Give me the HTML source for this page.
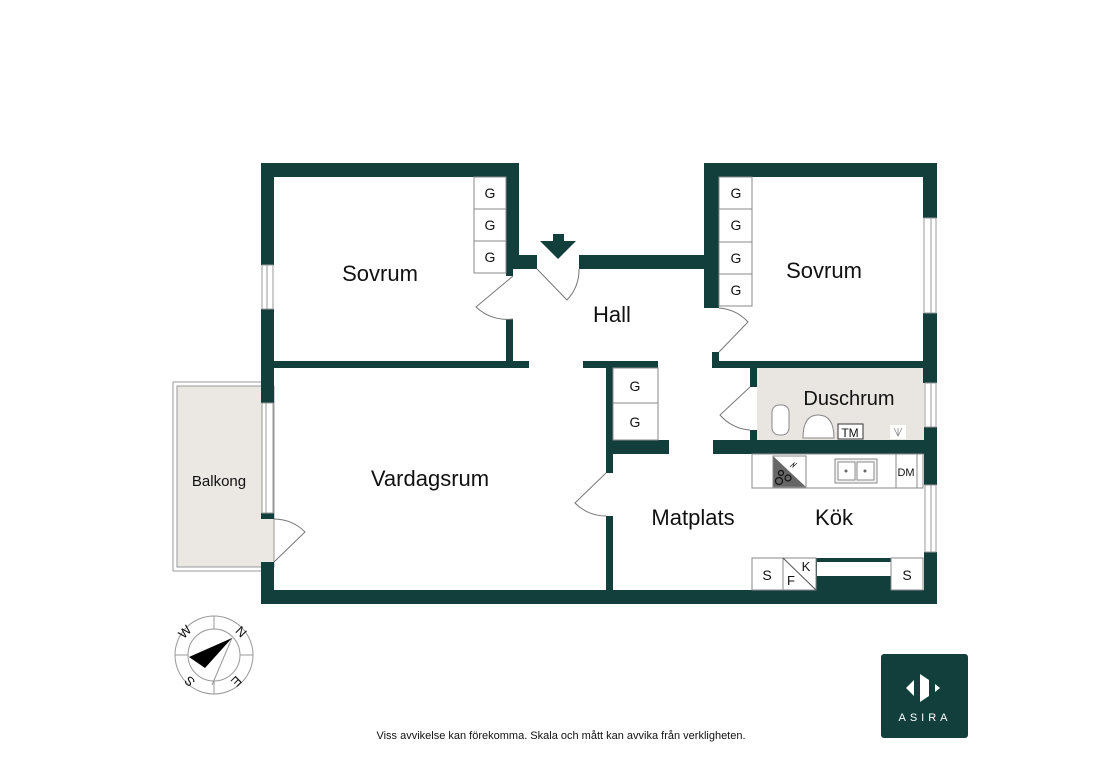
<!DOCTYPE html>
<html><head><meta charset="utf-8"><style>
html,body{margin:0;padding:0;background:#fff;}
svg{display:block;}
text{font-family:"Liberation Sans",Arial,sans-serif;fill:#111;}
</style></head><body>
<svg width="1110" height="782" viewBox="0 0 1110 782" xmlns="http://www.w3.org/2000/svg">
<rect x="173" y="382" width="90" height="189" fill="#fff" stroke="#999" stroke-width="1"/>
<rect x="177" y="386" width="97" height="181" fill="#ebe7e3" stroke="#999" stroke-width="1"/>
<rect x="757" y="368" width="167" height="72" fill="#e9e5e1"/>
<g fill="#123f3c">
<rect x="261" y="163" width="258" height="14"/>
<rect x="261" y="163" width="13" height="102"/>
<rect x="261" y="309" width="13" height="94"/>
<rect x="261" y="513" width="13" height="6"/>
<rect x="261" y="562" width="13" height="42"/>
<rect x="261" y="590" width="676" height="14"/>
<rect x="506" y="163" width="13" height="106"/>
<rect x="506" y="269" width="7" height="7"/>
<rect x="506" y="255" width="31" height="14"/>
<rect x="579" y="255" width="140" height="14"/>
<rect x="704" y="163" width="233" height="14"/>
<rect x="704" y="163" width="15" height="145"/>
<rect x="712" y="352" width="7" height="16"/>
<rect x="923" y="163" width="14" height="55"/>
<rect x="923" y="313" width="14" height="70"/>
<rect x="924" y="427" width="13" height="58"/>
<rect x="924" y="552" width="13" height="52"/>
<rect x="506" y="319" width="7" height="42"/>
<rect x="274" y="361" width="255" height="7"/>
<rect x="583" y="361" width="75" height="7"/>
<rect x="606" y="361" width="7" height="112"/>
<rect x="606" y="516" width="7" height="74"/>
<rect x="606" y="440" width="63" height="14"/>
<rect x="713" y="440" width="224" height="14"/>
<rect x="713" y="361" width="224" height="7"/>
<rect x="750" y="368" width="7" height="19"/>
<rect x="750" y="430" width="7" height="10"/>
<rect x="816" y="558" width="75" height="32"/>
</g>
<rect x="817" y="562" width="74" height="14" fill="#fff"/>
<g fill="#fff" stroke="#999" stroke-width="1">
<rect x="262" y="265" width="11" height="44"/>
<rect x="262" y="403" width="11" height="110"/>
<rect x="924" y="218" width="12" height="95"/>
<rect x="925" y="383" width="11" height="44"/>
<rect x="925" y="485" width="11" height="67"/>
</g>
<g stroke="#999" stroke-width="1">
<line x1="267" y1="265" x2="267" y2="309"/><line x1="266" y1="403" x2="266" y2="513"/>
<line x1="931" y1="218" x2="931" y2="313"/><line x1="931" y1="383" x2="931" y2="427"/><line x1="931" y1="485" x2="931" y2="552"/>
</g>
<g fill="#fff" stroke="#888" stroke-width="1">
<rect x="474" y="177" width="32" height="32"/><rect x="474" y="209" width="32" height="32"/><rect x="474" y="241" width="32" height="32"/>
<rect x="719" y="177" width="33" height="32"/><rect x="719" y="209" width="33" height="33"/><rect x="719" y="242" width="33" height="32"/><rect x="719" y="274" width="33" height="32"/>
<rect x="613" y="368" width="45" height="35"/><rect x="613" y="403" width="45" height="37"/>
<rect x="752" y="454" width="171" height="34"/>
<rect x="896" y="454" width="21" height="34"/>
<rect x="752" y="558" width="31" height="32"/><rect x="783" y="558" width="33" height="32"/><rect x="891" y="558" width="32" height="32"/>
</g>
<g font-size="14" text-anchor="middle">
<text x="490" y="198">G</text><text x="490" y="230">G</text><text x="490" y="262">G</text>
<text x="736" y="198">G</text><text x="736" y="230">G</text><text x="736" y="263">G</text><text x="736" y="295">G</text>
<text x="635" y="391">G</text><text x="635" y="427">G</text>
<text x="767" y="580">S</text><text x="907" y="580">S</text>
<text x="791" y="585" font-size="13">F</text><text x="806" y="571" font-size="13">K</text>
<text x="906" y="476" font-size="11">DM</text>
</g>
<line x1="783" y1="558" x2="816" y2="590" stroke="#555" stroke-width="1"/>
<path d="M773 456 L806 487 L773 487 Z" fill="#666"/>
<rect x="773" y="456" width="33" height="31" fill="none" stroke="#888"/>
<g fill="none" stroke="#111" stroke-width="1.2"><circle cx="779" cy="481" r="3.5"/><circle cx="788" cy="478" r="3"/><circle cx="781" cy="473" r="2.5"/></g>
<path d="M790 467 l4 -4 l-1 4 l4 -4" stroke="#333" fill="none" stroke-width="0.8"/>
<rect x="835" y="459" width="42" height="24" fill="#f4f4f4" stroke="#888"/>
<rect x="838" y="462" width="17" height="18" fill="#fff" stroke="#888"/><rect x="857" y="462" width="17" height="18" fill="#fff" stroke="#888"/>
<circle cx="846" cy="471" r="1.5" fill="#666"/><circle cx="865" cy="471" r="1.5" fill="#666"/>
<rect x="772" y="405" width="17" height="30" rx="7" fill="#fff" stroke="#888"/>
<path d="M803 438 Q803 415 818 415 Q834 415 834 438 Z" fill="#fff" stroke="#888"/>
<rect x="838" y="424" width="25" height="15" fill="#fff" stroke="#333"/>
<text x="850" y="437" font-size="12" text-anchor="middle">TM</text>
<rect x="890" y="425" width="16" height="14" fill="#fff"/>
<path d="M894 428 L898 436 L902 428 M898 428 L898 436" stroke="#888" fill="none" stroke-width="0.8"/>
<g fill="none" stroke="#777" stroke-width="1">
<path d="M537 269 L567 300 A43 43 0 0 0 579 269"/>
<path d="M513 276 L476 307 A45 45 0 0 0 513 319"/>
<path d="M719 352 L748 322 A44 44 0 0 0 719 308"/>
<path d="M750 387 L720 415 A43 43 0 0 0 750 430"/>
<path d="M274 562 L305 532 A43 43 0 0 0 274 519"/>
<path d="M606 473 L575 503 A43 43 0 0 0 606 516"/>
</g>
<path d="M553 234 H564 V241 H576 L558 259 L540 241 H553 Z" fill="#123f3c"/>
<g font-size="22" text-anchor="middle">
<text x="380" y="281">Sovrum</text>
<text x="612" y="322">Hall</text>
<text x="824" y="278">Sovrum</text>
<text x="430" y="486">Vardagsrum</text>
<text x="693" y="525">Matplats</text>
<text x="834" y="525">Kök</text>
<text x="849" y="405" font-size="20">Duschrum</text>
<text x="219" y="486" font-size="15">Balkong</text>
</g>
<text x="561" y="739" font-size="11" text-anchor="middle">Viss avvikelse kan förekomma. Skala och mått kan avvika från verkligheten.</text>
<g stroke="#999" fill="none" stroke-width="1">
<circle cx="214" cy="655" r="39"/><circle cx="214" cy="655" r="26"/>
<line x1="214" y1="616" x2="214" y2="629"/><line x1="214" y1="681" x2="214" y2="694"/>
<line x1="175" y1="655" x2="188" y2="655"/><line x1="240" y1="655" x2="253" y2="655"/>
<line x1="232" y1="638" x2="212" y2="685"/>
</g>
<path d="M232 638 L189 657 L205 668 Z" fill="#000"/>
<g font-size="13" text-anchor="middle" fill="#111">
<text x="188" y="635" transform="rotate(-45 188 635)">W</text>
<text x="238" y="635" transform="rotate(45 238 635)">N</text>
<text x="190" y="685" transform="rotate(-135 190 681)">S</text>
<text x="236" y="685" transform="rotate(135 236 681)">E</text>
</g>
<rect x="881" y="654" width="87" height="84" rx="3" fill="#123f3c"/>
<path d="M906 688 L914 680 L914 696 Z" fill="#fff"/>
<path d="M920 674 L929 680 L929 696 L920 702 Z" fill="#fff"/>
<path d="M935 684 L940 688 L935 692 Z" fill="#fff"/>
<text x="925" y="721" font-size="11" text-anchor="middle" letter-spacing="4" style="fill:#fff">ASIRA</text>
</svg>
</body></html>
